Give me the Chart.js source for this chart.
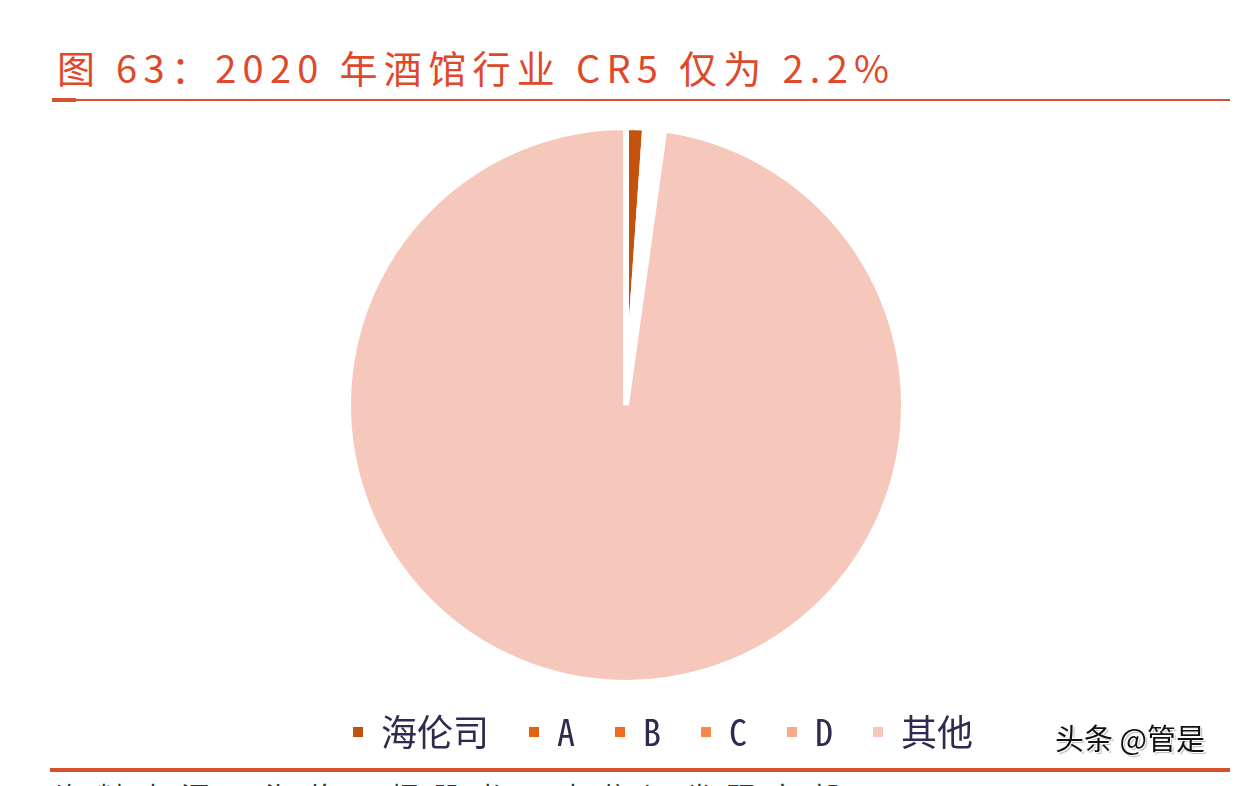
<!DOCTYPE html>
<html>
<head>
<meta charset="utf-8">
<script src="https://cdn.jsdelivr.net/npm/chart.js@4.4.1/dist/chart.umd.min.js"></script>
<style>
    html, body{
        margin:0;
        padding:0;
        width:1240px;
        height:786px;
        overflow:hidden;
        background:#fff;
        font-family:"Noto Sans CJK SC", "Noto Sans", sans-serif;
    }
    #title{
        position:absolute;
        left:57px;
        top:39px;
        font-size:38px;
        letter-spacing:6.3px;
        color:#e0482c;
        white-space:nowrap;
    }
    .rule{
        position:absolute;
        background:#d9502f;
    }
    #wrap{
        position:absolute;
        left:100px;
        top:122px;
        width:1126px;
        height:650px;
    }
    #mark{
        position:absolute;
        left:1055px;
        top:716px;
        font-size:29px;
        color:#111;
        white-space:nowrap;
        text-shadow:1px 1px 0 #fff, -1px -1px 0 #fff, 2px 2px 1px #bbb;
    }
    #source{
        position:absolute;
        left:55px;
        top:776px;
        font-size:28px;
        color:#333;
        letter-spacing:14px;
        white-space:nowrap;
    }
</style>
</head>
<body>
    <div id="title">图 63：2020 年酒馆行业 CR5 仅为 2.2%</div>
    <div class="rule" style="left:52px;top:99px;width:1178px;height:2px;"></div>
    <div class="rule" style="left:52px;top:98px;width:24px;height:4px;"></div>
    <div id="wrap"><canvas id="pie"></canvas></div>
    <div id="mark">头条 @管是</div>
    <div class="rule" style="left:50px;top:768px;width:1180px;height:4px;"></div>
    <div id="source">资料来源：海伦司招股书，中信证券研究部</div>
<script>
// market share 2020 (%), CR5 = 2.2
var labels = ['海伦司', 'A', 'B', 'C', 'D', '其他'];
var shares = [1.1, 0.3, 0.3, 0.3, 0.2, 97.8];
var colors = ['#c4520f', '#e2620e', '#f26b1d', '#f6874a', '#f7ab8e', '#f6c8bb'];

// the legend sits a little right of the pie centre and close under it in the original
var legendShift = {
    id: 'legendShift',
    afterLayout: function(chart){
        chart.legend.left += 37;
        chart.legend.right += 37;
        chart.legend.top -= 12;
        chart.legend.bottom -= 12;
    }
};

var myPie = new Chart(document.getElementById('pie'), {
    type: 'pie',
    data: {
        labels: labels,
        datasets: [{
            data: shares,
            backgroundColor: colors,
            borderColor: '#ffffff',
            borderWidth: 6
        }]
    },
    options: {
        responsive: true,
        maintainAspectRatio: false,
        animation: false,
        layout: {
            padding: {top: 2, right: 74, bottom: 0}
        },
        plugins: {
            tooltip: {enabled: false},
            legend: {
                position: 'bottom',
                labels: {
                    boxWidth: 10,
                    boxHeight: 10,
                    padding: 40,
                    color: '#2e2b4f',
                    font: {family: '"Noto Sans Mono CJK SC", "Noto Sans CJK SC", serif', size: 36},
                    generateLabels: function(chart){
                        // no white stroke on the legend boxes
                        var items = Chart.overrides.pie.plugins.legend.labels.generateLabels(chart);
                        items.forEach(function(it){ it.lineWidth = 0; });
                        return items;
                    }
                }
            }
        }
    },
    plugins: [legendShift]
});
</script>
</body>
</html>
